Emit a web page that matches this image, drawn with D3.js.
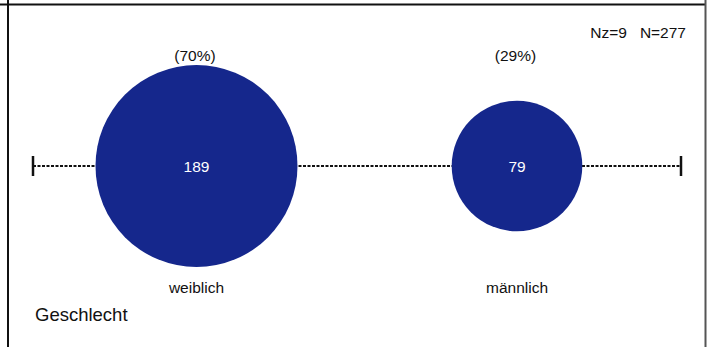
<!DOCTYPE html>
<html><head><meta charset="utf-8">
<script src="https://cdn.jsdelivr.net/npm/d3@7"></script>
<style>body{margin:0;background:#fff}svg{display:block}text{font-family:"Liberation Sans",Arial,sans-serif}</style>
</head><body><svg id="c" width="712" height="347"></svg>
<script>
const categories = ["weiblich", "männlich"];
const counts = [189, 79];
const percents = ["(70%)", "(29%)"];
const variableLabel = "Geschlecht";
const totalsLabel = "Nz=9   N=277";

const svg = d3.select("#c");
const W = 712, H = 347;

// frame
svg.append("line").attr("x1", 0).attr("x2", 706).attr("y1", 4.5).attr("y2", 4.5).attr("stroke", "#111").attr("stroke-width", 2);
svg.append("line").attr("x1", 8).attr("x2", 8).attr("y1", 0).attr("y2", H).attr("stroke", "#111").attr("stroke-width", 2);
svg.append("line").attr("x1", 705.5).attr("x2", 705.5).attr("y1", 0).attr("y2", H).attr("stroke", "#555").attr("stroke-width", 2);

const x = d3.scaleLinear().domain([0, 1]).range([196.5, 517]);
const r = d3.scaleSqrt().domain([0, d3.max(counts)]).range([0, 101]);
const cy = 166;

// axis line
svg.append("line").attr("x1", 33).attr("x2", 681).attr("y1", cy).attr("y2", cy)
  .attr("stroke", "#111").attr("stroke-width", 2).attr("stroke-dasharray", "3,1.5");
[33, 681].forEach(px => svg.append("line").attr("x1", px).attr("x2", px).attr("y1", cy - 10).attr("y2", cy + 10).attr("stroke", "#111").attr("stroke-width", 2.5));

const fs = 15.5;
const g = svg.selectAll("g.cat").data(categories).join("g").attr("class", "cat");
g.append("circle").attr("cx", (d, i) => x(i)).attr("cy", cy).attr("r", (d, i) => r(counts[i])).attr("fill", "#15278c");
g.append("text").attr("x", (d, i) => x(i)).attr("y", cy + 5.5).attr("text-anchor", "middle").attr("fill", "#fff").attr("font-size", fs).text((d, i) => counts[i]);
g.append("text").attr("x", (d, i) => x(i) - 1.5).attr("y", 60.5).attr("text-anchor", "middle").attr("fill", "#111").attr("font-size", fs).text((d, i) => percents[i]);
g.append("text").attr("x", (d, i) => x(i)).attr("y", 293).attr("text-anchor", "middle").attr("fill", "#111").attr("font-size", fs).text(d => d);

svg.append("text").attr("x", 35).attr("y", 320.5).attr("font-size", 18.5).attr("fill", "#111").text(variableLabel);
svg.append("text").attr("x", 686).attr("y", 37.5).attr("text-anchor", "end").attr("font-size", fs).attr("fill", "#111").attr("xml:space", "preserve").style("white-space", "pre").text(totalsLabel);
</script></body></html>
